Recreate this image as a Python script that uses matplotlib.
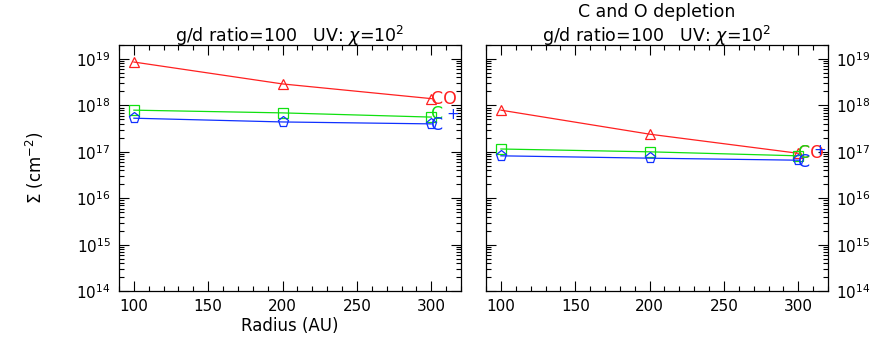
import matplotlib
matplotlib.use("Agg")
import matplotlib.pyplot as plt
from matplotlib.ticker import MultipleLocator, LogLocator, NullFormatter

# ----------------------------
# DATA (column densities, cm^-2)
# ----------------------------
radius = [100, 200, 300]

# left panel: no depletion
co_left = [8.6e18, 2.9e18, 1.4e18]
c_left = [7.9e17, 6.9e17, 5.6e17]
cplus_left = [5.3e17, 4.4e17, 4.0e17]

# right panel: C and O depletion
co_right = [7.9e17, 2.4e17, 9.3e16]
c_right = [1.15e17, 1.0e17, 8.2e16]
cplus_right = [8.2e16, 7.3e16, 6.6e16]

title_line = r"g/d ratio=100   UV: $\chi$=10$^2$"
label_xpos = 300

# ----------------------------
# FIGURE
# ----------------------------
fig = plt.figure(figsize=(8.77, 3.49), dpi=100)
ax1 = fig.add_axes([0.1357, 0.166, 0.39, 0.705])
ax2 = fig.add_axes([0.5542, 0.166, 0.39, 0.705])

red, green, blue = "#ff2020", "#10e010", "#1030ff"


def style_axis(ax, right_labels=False):
    ax.set_yscale("log")
    ax.set_xlim(90, 320)
    ax.set_ylim(1e14, 2e19)
    ax.xaxis.set_major_locator(MultipleLocator(50))
    ax.xaxis.set_minor_locator(MultipleLocator(10))
    ax.yaxis.set_major_locator(LogLocator(base=10, numticks=10))
    ax.yaxis.set_minor_locator(LogLocator(base=10, subs=range(2, 10), numticks=20))
    ax.yaxis.set_minor_formatter(NullFormatter())
    ax.tick_params(which="both", direction="in", top=True, right=True,
                   labelsize=11, width=0.8, pad=6)
    ax.tick_params(which="major", length=7)
    ax.tick_params(which="minor", length=3.5)
    if right_labels:
        ax.tick_params(axis="y", labelleft=False, labelright=True)
    for s in ax.spines.values():
        s.set_linewidth(0.9)


def draw_panel(ax, co, c, cplus):
    ax.plot(radius, co, color=red, lw=0.9, marker="^", ms=7, mfc="none", mew=0.9)
    ax.plot(radius, c, color=green, lw=0.9, marker="s", ms=7, mfc="none", mew=0.9)
    ax.plot(radius, cplus, color=blue, lw=0.9, marker="p", ms=8, mfc="none", mew=0.9)
    # species labels at the end of the lines
    ax.annotate("CO", (label_xpos, co[-1]), xytext=(0, 0), textcoords="offset points",
                color=red, fontsize=12.5, ha="left", va="center")
    ax.annotate("C", (label_xpos, c[-1]), xytext=(0, 2), textcoords="offset points",
                color=green, fontsize=12.5, ha="left", va="center")
    ax.annotate("C", (label_xpos, cplus[-1]), xytext=(0, -1), textcoords="offset points",
                color=blue, fontsize=12.5, ha="left", va="center")
    ax.annotate("+", (label_xpos, cplus[-1]), xytext=(11, 7), textcoords="offset points",
                color=blue, fontsize=11, ha="left", va="center")


style_axis(ax1)
style_axis(ax2, right_labels=True)
draw_panel(ax1, co_left, c_left, cplus_left)
draw_panel(ax2, co_right, c_right, cplus_right)

# titles placed by baseline so the two-line one fits inside the figure
x1 = 0.1357 + 0.39 / 2
x2 = 0.5542 + 0.39 / 2
fig.text(x1, 1 - 42 / 349, title_line, fontsize=12.5, ha="center", va="baseline")
fig.text(x2, 1 - 42 / 349, title_line, fontsize=12.5, ha="center", va="baseline")
fig.text(x2, 1 - 17 / 349, "C and O depletion", fontsize=12.5, ha="center", va="baseline")

ax1.set_xlabel("Radius (AU)", fontsize=12, labelpad=2)
ax1.set_ylabel(r"$\Sigma$ (cm$^{-2}$)", fontsize=12, labelpad=22)

fig.savefig("out.png", dpi=100)
